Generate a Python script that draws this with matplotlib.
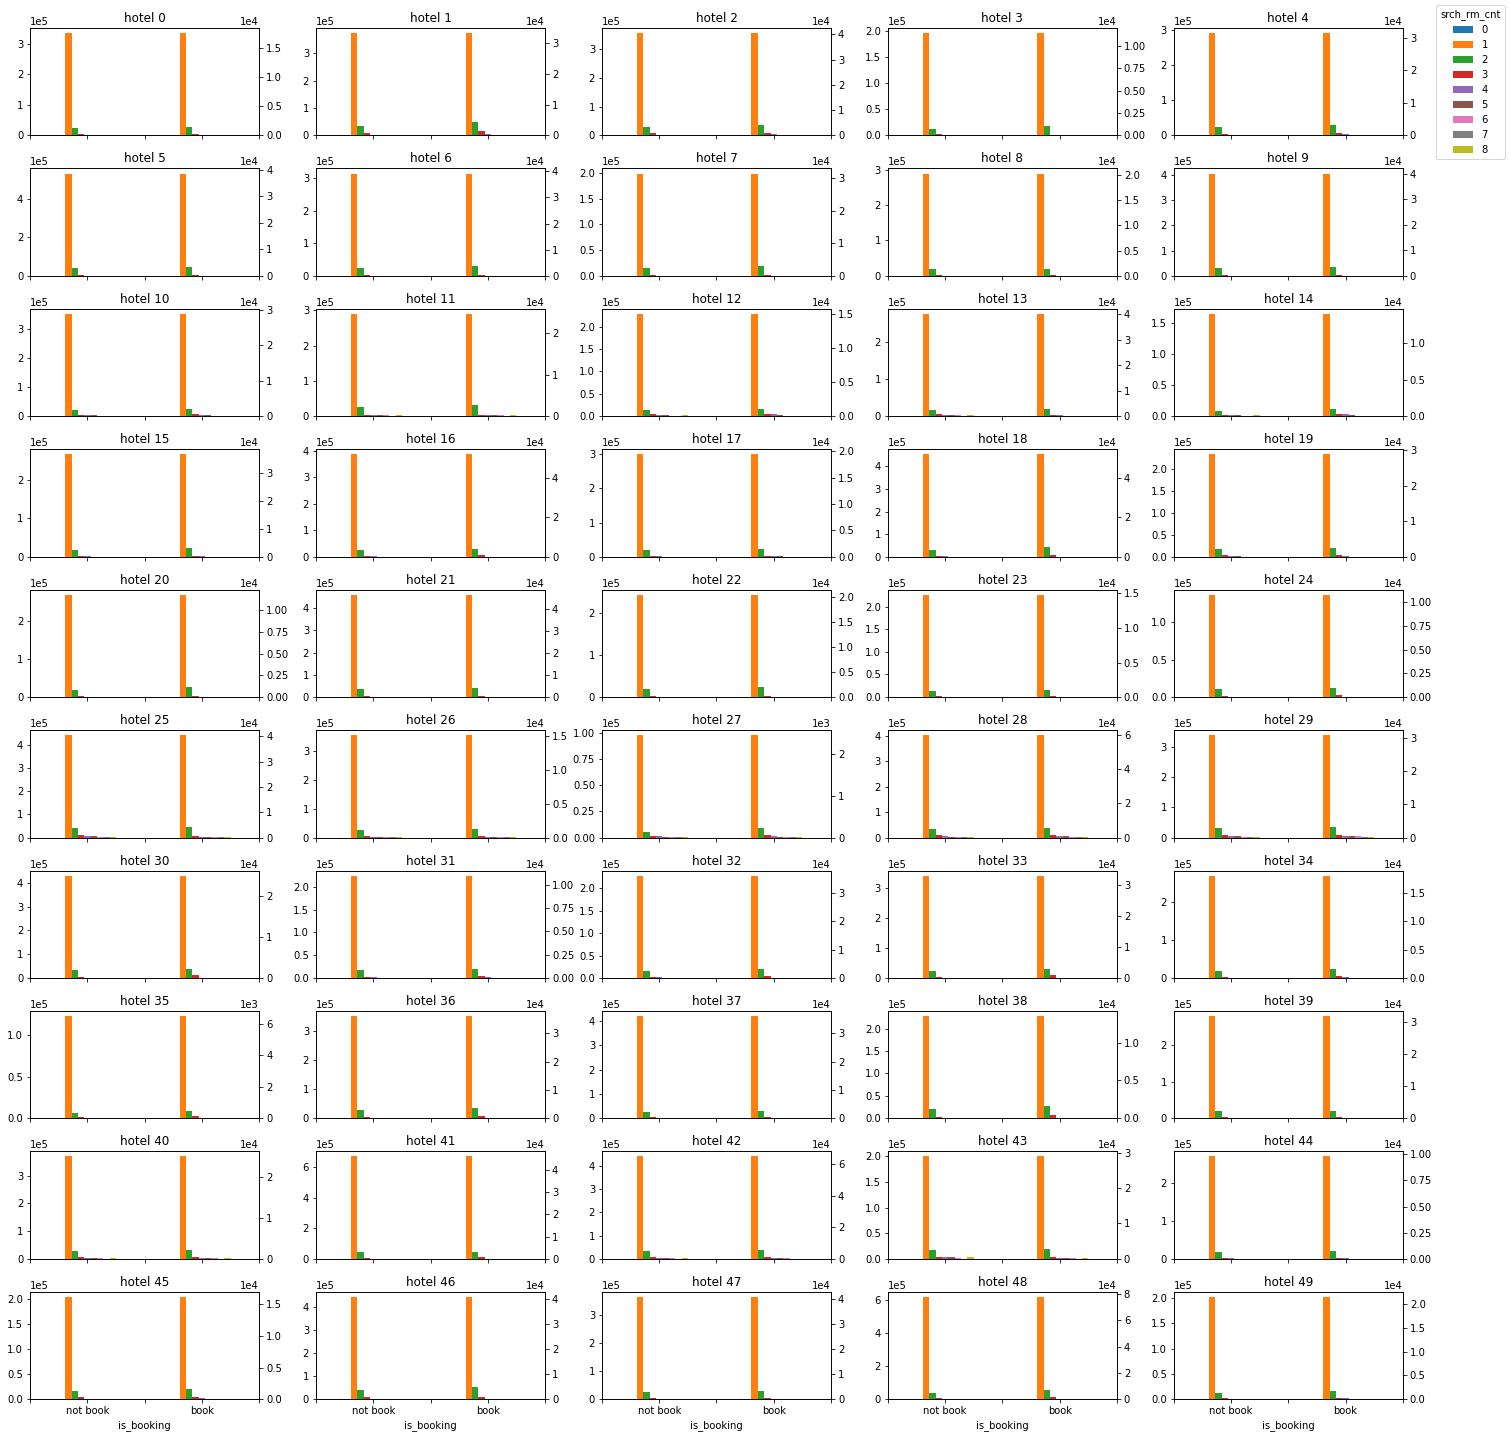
import matplotlib.pyplot as plt

# counts in thousands, one value per hotel (hotel 0 .. hotel 49)
room_counts = ['0', '1', '2', '3', '4', '5', '6', '7', '8']
booking_labels = ['not book', 'book']

not_book_rm0 = [0, 0, 0, 0, 0,  0, 0, 0, 0, 0,  0, 0, 0, 0, 0,  0, 0, 0, 0, 0,  0, 0, 0, 0, 0,
                0, 0, 0, 0, 0,  0, 0, 0, 0, 0,  0, 0, 0, 0, 0,  0, 0, 0, 0, 0,  0, 0, 0, 0, 0]
not_book_rm1 = [334, 374, 355, 196, 290,
                531, 313, 199, 289, 405,
                351, 290, 228, 274, 165,
                266, 387, 300, 453, 234,
                268, 460, 244, 226, 137,
                443, 353, 97.5, 403, 340,
                430, 225, 228, 340, 270,
                123, 350, 420, 228, 280,
                370, 670, 440, 200, 270,
                205, 445, 365, 620, 202]
not_book_rm2 = [24, 36, 31, 13, 23,
                41, 24, 15.5, 19, 31,
                23, 25, 13, 18, 9,
                17, 25, 20, 29, 17,
                19, 35, 19, 14, 11,
                40, 26, 5, 34, 31,
                32, 18, 16, 23, 18,
                6, 29, 27, 21, 19,
                28, 45, 33, 18, 17,
                16, 38, 25, 40, 13]
not_book_rm3 = [4, 10, 9, 2, 4,
                6, 4, 2.5, 3, 5,
                4, 5, 4, 5, 2,
                3, 4, 3, 5, 3,
                3, 5, 3, 2.5, 2,
                10, 4, 1.2, 10, 8,
                6, 3, 3, 4, 3,
                1.5, 5, 5, 4, 3,
                6, 8, 8, 4, 3,
                4, 8, 4, 8, 3]
not_book_rm4 = [1, 1, 1, 0.5, 1,
                1, 1, 0.5, 1, 1,
                4, 3, 3, 3, 2,
                1, 4, 1, 1, 1,
                1, 1, 1, 0.5, 0.5,
                5, 3, 1.2, 5, 4,
                1, 1, 1, 1, 1,
                0.5, 1, 1, 1, 1,
                4, 1, 4, 3, 1,
                1, 1, 1, 1, 1]
not_book_rm5 = [0.5, 0.5, 0.5, 0.3, 0.5,
                0.5, 0.5, 0.3, 0.5, 0.5,
                4, 3, 2.5, 3, 2,
                0.5, 0.5, 0.5, 0.5, 0.5,
                0.5, 0.5, 0.5, 0.3, 0.3,
                5, 0.5, 0.3, 4, 4,
                0.5, 0.5, 0.5, 0.5, 0.5,
                0.3, 0.5, 0.5, 0.5, 0.5,
                3, 0.5, 3, 3, 0.5,
                0.5, 0.5, 0.5, 0.5, 0.5]
not_book_rm6 = [0.3, 0.3, 0.3, 0.2, 0.3,
                0.3, 0.3, 0.2, 0.3, 0.3,
                1, 3, 1, 2.5, 1,
                0.3, 0.3, 0.3, 0.3, 0.3,
                0.3, 0.3, 0.3, 0.2, 0.2,
                4, 0.3, 0.2, 3, 3,
                0.3, 0.3, 0.3, 0.3, 0.3,
                0.2, 0.3, 0.3, 0.3, 0.3,
                2, 0.3, 2, 2, 0.3,
                0.3, 0.3, 0.3, 0.3, 0.3]
not_book_rm7 = [0.2, 0.2, 0.2, 0.1, 0.2,
                0.2, 0.2, 0.1, 0.2, 0.2,
                0.5, 0.5, 0.5, 0.5, 0.3,
                0.2, 0.2, 0.2, 0.2, 0.2,
                0.2, 0.2, 0.2, 0.1, 0.1,
                0.5, 0.2, 0.1, 0.5, 0.5,
                0.2, 0.2, 0.2, 0.2, 0.2,
                0.1, 0.2, 0.2, 0.2, 0.2,
                0.5, 0.2, 0.5, 0.5, 0.2,
                0.2, 0.2, 0.2, 0.2, 0.2]
not_book_rm8 = [0.3, 0.3, 0.3, 0.2, 0.3,
                0.3, 0.3, 0.2, 0.3, 0.3,
                1, 3, 2.5, 2.5, 2,
                0.3, 0.3, 0.3, 0.3, 0.3,
                0.3, 0.3, 0.3, 0.2, 0.2,
                4, 0.3, 0.2, 3, 3,
                0.3, 0.3, 0.3, 0.3, 0.3,
                0.2, 0.3, 0.3, 0.3, 0.3,
                3, 0.3, 3, 3, 0.3,
                0.3, 0.3, 0.3, 0.3, 0.3]

book_rm0 = [0, 0, 0, 0, 0,  0, 0, 0, 0, 0,  0, 0, 0, 0, 0,  0, 0, 0, 0, 0,  0, 0, 0, 0, 0,
            0, 0, 0, 0, 0,  0, 0, 0, 0, 0,  0, 0, 0, 0, 0,  0, 0, 0, 0, 0,  0, 0, 0, 0, 0]
book_rm1 = [17.6, 33.1, 40.5, 11.4, 31.4,
            38.5, 39.1, 31.3, 20.2, 40.0,
            28.9, 24.6, 15.0, 40.0, 14.0,
            36.7, 51.8, 19.4, 51.8, 28.9,
            11.8, 46.4, 20.5, 14.8, 10.8,
            40.5, 15.1, 2.45, 59.6, 30.7,
            25.0, 11.0, 36.0, 33.0, 18.0,
            6.5, 36.0, 36.0, 13.5, 32.0,
            25.0, 46.0, 65.0, 29.0, 9.8,
            16.2, 41.0, 41.0, 78.0, 21.5]
book_rm2 = [1.4, 4.5, 4.3, 1.0, 3.1,
            3.4, 3.8, 3.0, 1.3, 3.5,
            2.2, 2.6, 1.0, 2.9, 1.0,
            3.2, 4.0, 1.5, 4.7, 2.5,
            1.2, 4.2, 2.0, 1.1, 1.0,
            4.2, 1.3, 0.22, 5.6, 3.3,
            2.2, 0.95, 3.0, 3.0, 1.5,
            0.45, 3.8, 2.6, 1.6, 2.4,
            2.1, 3.0, 5.5, 2.9, 0.7,
            1.6, 4.8, 3.4, 6.8, 1.8]
book_rm3 = [0.2, 1.3, 1.0, 0.1, 0.8,
            0.5, 0.5, 0.4, 0.2, 0.4,
            0.7, 0.4, 0.4, 0.5, 0.3,
            0.4, 1.0, 0.2, 1.0, 0.6,
            0.1, 0.5, 0.3, 0.2, 0.2,
            0.8, 0.2, 0.05, 1.3, 0.7,
            0.8, 0.2, 0.6, 0.8, 0.3,
            0.15, 0.8, 0.4, 0.4, 0.4,
            0.4, 0.6, 1.0, 0.6, 0.1,
            0.35, 0.9, 0.5, 1.4, 0.3]
book_rm4 = [0.1, 0.4, 0.4, 0.05, 0.4,
            0.1, 0.1, 0.1, 0.05, 0.1,
            0.4, 0.3, 0.3, 0.4, 0.3,
            0.4, 0.1, 0.2, 0.1, 0.3,
            0.05, 0.1, 0.1, 0.05, 0.05,
            0.4, 0.1, 0.03, 0.8, 0.4,
            0.1, 0.05, 0.1, 0.1, 0.1,
            0.03, 0.1, 0.1, 0.1, 0.1,
            0.3, 0.1, 0.6, 0.3, 0.05,
            0.2, 0.1, 0.1, 0.2, 0.25]
book_rm5 = [0.05, 0.05, 0.05, 0.02, 0.05,
            0.05, 0.05, 0.05, 0.02, 0.05,
            0.4, 0.3, 0.2, 0.3, 0.2,
            0.05, 0.05, 0.05, 0.05, 0.05,
            0.02, 0.05, 0.05, 0.02, 0.02,
            0.4, 0.05, 0.01, 0.6, 0.4,
            0.05, 0.02, 0.05, 0.05, 0.05,
            0.01, 0.05, 0.05, 0.05, 0.05,
            0.3, 0.05, 0.5, 0.3, 0.02,
            0.05, 0.05, 0.05, 0.05, 0.05]
book_rm6 = [0.03, 0.03, 0.03, 0.01, 0.03,
            0.03, 0.03, 0.03, 0.01, 0.03,
            0.1, 0.3, 0.1, 0.3, 0.1,
            0.03, 0.03, 0.03, 0.03, 0.03,
            0.01, 0.03, 0.03, 0.01, 0.01,
            0.4, 0.03, 0.01, 0.5, 0.4,
            0.03, 0.01, 0.03, 0.03, 0.03,
            0.01, 0.03, 0.03, 0.03, 0.03,
            0.1, 0.03, 0.4, 0.3, 0.01,
            0.03, 0.03, 0.03, 0.03, 0.03]
book_rm7 = [0.02, 0.02, 0.02, 0.01, 0.02,
            0.02, 0.02, 0.02, 0.01, 0.02,
            0.05, 0.05, 0.05, 0.05, 0.05,
            0.02, 0.02, 0.02, 0.02, 0.02,
            0.01, 0.02, 0.02, 0.01, 0.01,
            0.1, 0.02, 0.005, 0.1, 0.05,
            0.02, 0.01, 0.02, 0.02, 0.02,
            0.005, 0.02, 0.02, 0.02, 0.02,
            0.05, 0.02, 0.05, 0.05, 0.01,
            0.02, 0.02, 0.02, 0.02, 0.02]
book_rm8 = [0.02, 0.02, 0.02, 0.01, 0.02,
            0.02, 0.02, 0.02, 0.01, 0.02,
            0.1, 0.3, 0.1, 0.1, 0.1,
            0.02, 0.02, 0.02, 0.02, 0.02,
            0.01, 0.02, 0.02, 0.01, 0.01,
            0.3, 0.02, 0.02, 0.1, 0.3,
            0.02, 0.01, 0.02, 0.02, 0.02,
            0.005, 0.02, 0.02, 0.02, 0.02,
            0.1, 0.02, 0.1, 0.3, 0.01,
            0.02, 0.02, 0.02, 0.02, 0.02]

not_book = [not_book_rm0, not_book_rm1, not_book_rm2, not_book_rm3, not_book_rm4,
            not_book_rm5, not_book_rm6, not_book_rm7, not_book_rm8]
book = [book_rm0, book_rm1, book_rm2, book_rm3, book_rm4,
        book_rm5, book_rm6, book_rm7, book_rm8]

colors = plt.get_cmap('tab10').colors[:9]
n_rooms = len(room_counts)
bar_w = 0.5 / n_rooms

# small dpi so the default font sizes come out like the original
fig, axes = plt.subplots(10, 5, figsize=(1510 / 72, 1438 / 72), dpi=72)
fig.subplots_adjust(left=0.02, right=0.929, top=0.9805, bottom=0.027,
                    wspace=0.249, hspace=0.307)

handles = []
for h, ax in enumerate(axes.flat):
    ax2 = ax.twinx()
    for k in range(n_rooms):
        off = (k - (n_rooms - 1) / 2) * bar_w
        b = ax.bar(0 + off, not_book[k][h] * 1000, bar_w, color=colors[k])
        ax2.bar(1 + off, book[k][h] * 1000, bar_w, color=colors[k])
        if h == 0:
            handles.append(b)
    ax.set_xlim(-0.5, 1.5)
    ax.set_xticks([-0.5, 0, 0.5, 1, 1.5])
    if h >= 45:
        ax.set_xticklabels(['', booking_labels[0], '', booking_labels[1], ''])
        ax.set_xlabel('is_booking')
    else:
        ax.set_xticklabels([''] * 5)
    ax.ticklabel_format(axis='y', style='sci', scilimits=(0, 0))
    ax2.ticklabel_format(axis='y', style='sci', scilimits=(0, 0))
    ax.set_title(f'hotel {h}')

fig.legend(handles, room_counts, title='srch_rm_cnt', loc='upper left',
           bbox_to_anchor=(0.948, 1.0))

fig.savefig('out.png', dpi=72)
